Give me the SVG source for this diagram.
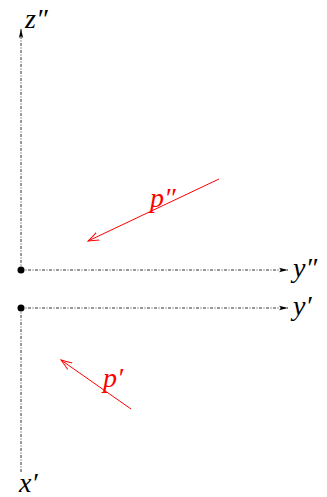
<svg xmlns="http://www.w3.org/2000/svg" width="327" height="497" viewBox="0 0 327 497">
<style>
.ax{stroke:#000;stroke-width:0.8;fill:none;stroke-dasharray:3,1.5,1,1.5}
.ln{stroke:#f00;stroke-width:1;fill:none}
.lb{font-family:"Liberation Serif",serif;font-style:italic;font-size:28px}
</style>
<defs>
<marker id="ak" markerWidth="10" markerHeight="6" refX="9" refY="3" orient="auto" markerUnits="userSpaceOnUse"><path d="M0,0.8 L9,3 L0,5.2 L2,3 Z" fill="#000"/></marker>
<marker id="ar" markerWidth="12" markerHeight="10" refX="11" refY="5" orient="auto" markerUnits="userSpaceOnUse"><path d="M0,1 Q6,3.5 11,5 Q6,6.5 0,9" stroke="#f00" stroke-width="1" fill="none"/></marker>
</defs>
<g id="connectors">
<line class="ax" x1="21" y1="270" x2="21" y2="29" marker-end="url(#ak)"/>
<line class="ax" x1="21" y1="270" x2="288" y2="270" marker-end="url(#ak)"/>
<line class="ax" x1="21" y1="308" x2="288" y2="308" marker-end="url(#ak)"/>
<line class="ax" x1="21" y1="308" x2="21" y2="472"/>
<line class="ln" x1="219" y1="179" x2="88" y2="241" marker-end="url(#ar)"/>
<line class="ln" x1="131" y1="409" x2="61" y2="360" marker-end="url(#ar)"/>
</g>
<g id="origin1"><circle cx="21" cy="270" r="3.5" fill="#000"/></g>
<g id="origin2"><circle cx="21" cy="308" r="3.5" fill="#000"/></g>
<g id="labels">
<text class="lb" x="25" y="28">z″</text>
<text class="lb" x="293" y="277">y″</text>
<text class="lb" x="293" y="315">y′</text>
<text class="lb" x="19" y="492">x′</text>
<text class="lb" x="150" y="207" fill="#f00">p″</text>
<text class="lb" x="103" y="387" fill="#f00">p′</text>
</g>
</svg>
